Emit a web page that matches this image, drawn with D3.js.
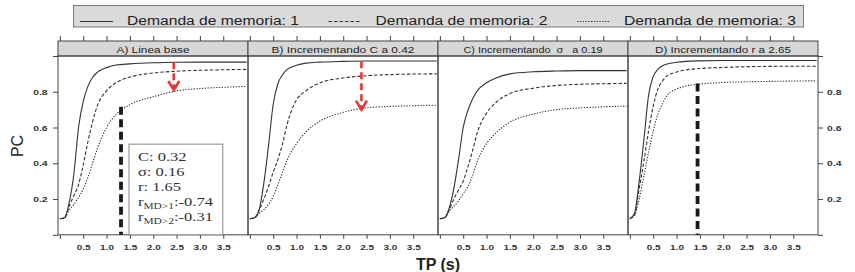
<!DOCTYPE html>
<html><head><meta charset="utf-8">
<script src="https://cdn.jsdelivr.net/npm/d3@7"></script>
<style>body{margin:0;background:#fff}svg{display:block}text{font-family:"Liberation Sans",Arial,sans-serif}text.serif{font-family:"Liberation Serif","Times New Roman",serif}</style>
</head><body><svg id="c" width="855" height="272"></svg>
<script>
// ---------- data ----------
const panels = ["A", "B", "C", "D"];
const panelTitles = ["A) Linea base", "B) Incrementando C a 0.42", "C) Incrementando  σ   a 0.19", "D) Incrementando r a 2.65"];
const seriesNames = ["Demanda de memoria: 1", "Demanda de memoria: 2", "Demanda de memoria: 3"];
const tp = [0, 0.1, 0.2, 0.3, 0.4, 0.5, 0.6, 0.7, 0.8, 1.0, 1.2, 1.5, 2.0, 2.5, 3.0, 3.5, 4.0];

const pcA1 = [0.09, 0.095, 0.18, 0.34, 0.60, 0.745, 0.83, 0.88, 0.908, 0.935, 0.95, 0.956, 0.962, 0.965, 0.966, 0.966, 0.966];
const pcA2 = [0.09, 0.095, 0.16, 0.22, 0.28, 0.39, 0.52, 0.63, 0.72, 0.805, 0.85, 0.882, 0.905, 0.915, 0.92, 0.923, 0.925];
const pcA3 = [0.09, 0.095, 0.14, 0.17, 0.21, 0.255, 0.32, 0.40, 0.48, 0.60, 0.672, 0.728, 0.772, 0.805, 0.818, 0.825, 0.83];

const pcB1 = [0.09, 0.095, 0.14, 0.29, 0.50, 0.73, 0.845, 0.895, 0.925, 0.948, 0.96, 0.966, 0.97, 0.972, 0.972, 0.972, 0.972];
const pcB2 = [0.09, 0.095, 0.14, 0.20, 0.27, 0.35, 0.42, 0.51, 0.62, 0.755, 0.805, 0.85, 0.877, 0.89, 0.896, 0.899, 0.90];
const pcB3 = [0.09, 0.095, 0.12, 0.14, 0.17, 0.215, 0.28, 0.35, 0.42, 0.51, 0.575, 0.635, 0.685, 0.71, 0.718, 0.722, 0.725];

const pcC1 = [0.09, 0.095, 0.15, 0.26, 0.42, 0.60, 0.695, 0.76, 0.805, 0.85, 0.877, 0.90, 0.912, 0.916, 0.918, 0.918, 0.918];
const pcC2 = [0.09, 0.095, 0.14, 0.20, 0.25, 0.30, 0.38, 0.47, 0.57, 0.68, 0.74, 0.79, 0.82, 0.835, 0.842, 0.845, 0.847];
const pcC3 = [0.09, 0.095, 0.13, 0.16, 0.19, 0.23, 0.27, 0.33, 0.41, 0.51, 0.57, 0.63, 0.675, 0.70, 0.71, 0.716, 0.72];

const pcD1 = [0.09, 0.12, 0.30, 0.53, 0.78, 0.885, 0.925, 0.945, 0.955, 0.965, 0.97, 0.973, 0.975, 0.975, 0.975, 0.975, 0.975];
const pcD2 = [0.09, 0.11, 0.26, 0.41, 0.58, 0.72, 0.815, 0.86, 0.89, 0.91, 0.922, 0.93, 0.936, 0.94, 0.942, 0.943, 0.943];
const pcD3 = [0.09, 0.11, 0.20, 0.33, 0.46, 0.58, 0.675, 0.735, 0.78, 0.815, 0.832, 0.843, 0.852, 0.856, 0.858, 0.86, 0.861];

const xTicks = [0, 0.5, 1.0, 1.5, 2.0, 2.5, 3.0, 3.5];
const xTickLabels = ["", "0.5", "1.0", "1.5", "2.0", "2.5", "3.0", "3.5"];
const yTicks = [0, 0.2, 0.4, 0.6, 0.8, 1.0];
const yTickLabels = ["", "0.2", "0.4", "0.6", "0.8", ""];

// vertical reference lines (panel, TP, PC top)
const markerPanels = ["A", "D"];
const markerTP = [1.31, 1.45];
const markerPC = [0.716, 0.846];
// red arrows (panel, TP, from PC, to PC)
const arrowPanels = ["A", "B"];
const arrowTP = [2.44, 2.39];
const arrowFrom = [0.965, 0.97];
const arrowTo = [0.81, 0.70];
// parameter box in panel A
const boxMain = ["C", "σ", "r", "r", "r"];
const boxSub = ["", "", "", "MD>1", "MD>2"];
const boxValue = [": 0.32", ": 0.16", ": 1.65", ":-0.74", ":-0.31"];

const curves = { A: [pcA1, pcA2, pcA3], B: [pcB1, pcB2, pcB3], C: [pcC1, pcC2, pcC3], D: [pcD1, pcD2, pcD3] };

// ---------- styles ----------
const dashes = [null, "3.5,2", "1.3,1.5"];
const lineColor = "#333";
const frameColor = "#444";
const red = "#e23a36";

const svg = d3.select("#c");
const panelBand = d3.scaleBand().domain(panels).range([58, 818]);
const x = d3.scaleLinear().domain([-0.04, 4.03]).range([0, panelBand.bandwidth()]);
const y = d3.scaleLinear().domain([0, 1]).range([234.8, 56]);
const stripTop = 41, stripBot = y(1), plotBot = y(0);

// ---------- legend ----------
const lg = svg.append("g");
lg.append("rect").attr("x", 73.5).attr("y", 5.5).attr("width", 730).attr("height", 21.5)
  .attr("fill", "#dadada").attr("stroke", "#7a7a7a");
const legendX = d3.scalePoint().domain(seriesNames).range([80, 577]);
seriesNames.forEach((s, i) => {
  const lx = legendX(s);
  lg.append("line").attr("x1", lx).attr("x2", lx + 33).attr("y1", 21.5).attr("y2", 21.5)
    .attr("stroke", lineColor).attr("stroke-width", 1).attr("stroke-dasharray", dashes[i]);
  lg.append("text").attr("x", lx + 47).attr("y", 25).attr("font-size", 12.5).attr("fill", "#222")
    .attr("textLength", 172).attr("lengthAdjust", "spacingAndGlyphs").text(s);
});

// ---------- panels ----------
const line = d3.line().x((d) => x(d[0])).y((d) => y(d[1])).curve(d3.curveMonotoneX);

panels.forEach((p, pi) => {
  const g = svg.append("g").attr("transform", `translate(${panelBand(p)},0)`);
  const w = panelBand.bandwidth();
  // strip
  g.append("rect").attr("x", 0).attr("y", stripTop).attr("width", w).attr("height", stripBot - stripTop)
    .attr("fill", "#d7d7d7").attr("stroke", frameColor);
  g.append("text").attr("x", w / 2).attr("y", 53).attr("text-anchor", "middle").attr("font-size", 8.5)
    .attr("fill", "#222").style("white-space", "pre")
    .attr("textLength", [73, 143, 139, 136][pi]).attr("lengthAdjust", "spacingAndGlyphs")
    .text(panelTitles[pi]);
  // frame
  g.append("rect").attr("x", 0).attr("y", stripBot).attr("width", w).attr("height", plotBot - stripBot)
    .attr("fill", "none").attr("stroke", frameColor);

  // axes
  const top = g.append("g").attr("transform", `translate(0,${stripTop})`)
    .call(d3.axisTop(x).tickValues(xTicks).tickSize(5).tickFormat(""));
  const bot = g.append("g").attr("transform", `translate(0,${plotBot})`)
    .call(d3.axisBottom(x).tickValues(xTicks).tickSize(4).tickPadding(6)
      .tickFormat((d, i) => xTickLabels[i]));
  [top, bot].forEach((a) => {
    a.select(".domain").remove();
    a.selectAll("line").attr("stroke", frameColor);
  });
  bot.selectAll("text").attr("font-size", 8).attr("font-weight", "bold").attr("fill", "#333")
    .attr("transform", "scale(1.25,1)");

  if (pi === 0) {
    const l = g.append("g").call(d3.axisLeft(y).tickValues(yTicks).tickSize(5).tickPadding(3)
      .tickFormat((d, i) => yTickLabels[i]));
    l.select(".domain").remove();
    l.selectAll("line").attr("stroke", frameColor);
    l.selectAll("text").attr("font-size", 8).attr("font-weight", "bold").attr("fill", "#333")
      .attr("transform", "scale(1.3,1)");
  }
  if (pi === panels.length - 1) {
    const r = g.append("g").attr("transform", `translate(${w},0)`)
      .call(d3.axisRight(y).tickValues(yTicks).tickSize(5).tickPadding(2)
        .tickFormat((d, i) => yTickLabels[i]));
    r.select(".domain").remove();
    r.selectAll("line").attr("stroke", frameColor);
    r.selectAll("text").attr("font-size", 8).attr("font-weight", "bold").attr("fill", "#333")
      .attr("transform", "scale(1.3,1)");
  }

  // curves
  curves[p].forEach((vals, si) => {
    g.append("path").datum(tp.map((t, k) => [t, vals[k]]))
      .attr("d", line).attr("fill", "none").attr("stroke", lineColor)
      .attr("stroke-width", 1.1).attr("stroke-dasharray", dashes[si]);
  });

  // parameter box (panel A)
  if (p === "A") {
    const bx0 = x(1.48), bx1 = x(3.49), by0 = y(0.507);
    g.append("rect").attr("x", bx0).attr("y", by0).attr("width", bx1 - bx0).attr("height", plotBot - by0)
      .attr("fill", "#fff").attr("stroke", "#888");
    boxMain.forEach((m, i) => {
      const t = g.append("text").attr("class", "serif")
        .attr("transform", `translate(${bx0 + 9},${161 + i * 15}) scale(1.27,1)`)
        .attr("font-size", 13).attr("fill", "#333");
      t.append("tspan").text(m);
      if (boxSub[i]) {
        t.append("tspan").attr("font-size", 9).attr("dy", 3).text(boxSub[i]);
        t.append("tspan").attr("dy", -3).text(boxValue[i]);
      } else {
        t.append("tspan").text(boxValue[i]);
      }
    });
  }

  // vertical black dashed markers
  markerPanels.forEach((mp, i) => {
    if (mp !== p) return;
    g.append("line").attr("x1", x(markerTP[i])).attr("x2", x(markerTP[i]))
      .attr("y1", y(markerPC[i])).attr("y2", plotBot)
      .attr("stroke", "#1a1a1a").attr("stroke-width", 3.8).attr("stroke-dasharray", "8,4.5");
  });

  // red arrows
  arrowPanels.forEach((ap, i) => {
    if (ap !== p) return;
    const ax = x(arrowTP[i]), ya = y(arrowFrom[i]), yb = y(arrowTo[i]);
    g.append("line").attr("x1", ax).attr("x2", ax).attr("y1", ya).attr("y2", yb - 1)
      .attr("stroke", red).attr("stroke-width", 2.6).attr("stroke-dasharray", "7,4");
    g.append("path").attr("d", `M${ax - 5.5},${yb - 9}L${ax},${yb}L${ax + 5.5},${yb - 9}`)
      .attr("fill", "none").attr("stroke", red).attr("stroke-width", 2.6);
  });
});

// ---------- axis titles ----------
svg.append("text").attr("transform", `translate(23,146) rotate(-90)`).attr("text-anchor", "middle")
  .attr("font-size", 16).attr("fill", "#222").text("PC");
svg.append("text").attr("x", 438).attr("y", 270).attr("text-anchor", "middle")
  .attr("font-size", 16).attr("font-weight", "bold").attr("fill", "#222").text("TP (s)");
</script>
</body></html>
